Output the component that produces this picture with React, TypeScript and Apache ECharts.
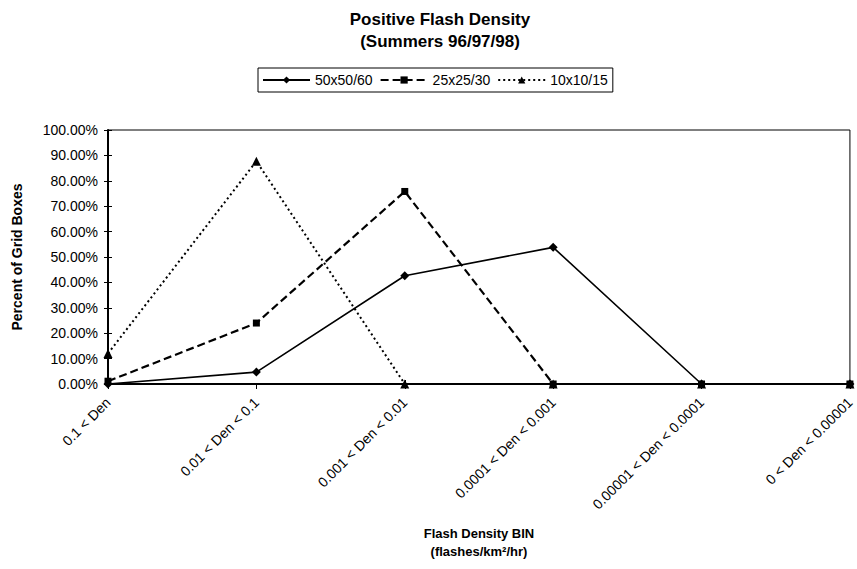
import React, { useEffect, useRef } from "react";
import * as echarts from "echarts";

const categories = [
  "0.1 < Den",
  "0.01 < Den < 0.1",
  "0.001 < Den < 0.01",
  "0.0001 < Den < 0.001",
  "0.00001 < Den < 0.0001",
  "0 < Den < 0.00001",
];
const seriesNames = ["50x50/60", "25x25/30", "10x10/15"];
const values50 = [0, 4.7, 42.6, 53.8, 0, 0];
const values25 = [1.1, 24.0, 75.8, 0, 0, 0];
const values10 = [12.0, 87.7, 0, 0, 0, 0];

const FONT = "'Liberation Sans', Arial, Helvetica, sans-serif";

export default function App() {
  const ref = useRef<HTMLDivElement>(null);
  useEffect(() => {
    if (!ref.current) return;
    const chart = echarts.init(ref.current, null, { renderer: "svg" });
    const option: any = {
      animation: false,
      backgroundColor: "#ffffff",
      textStyle: { fontFamily: FONT, color: "#000" },
      title: {
        text: "Positive Flash Density\n(Summers 96/97/98)",
        left: 435,
        textAlign: "center",
        top: 3,
        textStyle: {
          fontFamily: FONT,
          fontSize: 17,
          fontWeight: "bold",
          color: "#000",
          lineHeight: 22,
        },
      },
      legend: {
        data: seriesNames,
        left: 258,
        top: 68,
        orient: "horizontal",
        itemWidth: 47,
        itemHeight: 9,
        itemGap: 7,
        padding: [5, 5, 5, 4],
        borderColor: "#000",
        borderWidth: 1,
        textStyle: { fontFamily: FONT, fontSize: 14, color: "#000" },
      },
      grid: {
        left: 108,
        right: 4,
        top: 130,
        bottom: 185,
        show: true,
        borderColor: "#000",
        borderWidth: 1,
        backgroundColor: "transparent",
      },
      xAxis: [
        {
          type: "category",
          data: categories,
          boundaryGap: false,
          axisLine: { show: true, lineStyle: { color: "#000", width: 2 } },
          axisTick: { show: true, length: 5, inside: false, lineStyle: { color: "#000" } },
          axisLabel: {
            rotate: 45,
            interval: 0,
            margin: 16,
            fontFamily: FONT,
            fontSize: 14,
            color: "#000",
          },
          splitLine: { show: false },
          name: "Flash Density BIN\n(flashes/km²/hr)",
          nameLocation: "middle",
          nameGap: 140,
          nameTextStyle: {
            fontFamily: FONT,
            fontSize: 13,
            fontWeight: "bold",
            color: "#000",
            lineHeight: 18,
            verticalAlign: "top",
          },
        },
        {
          type: "category",
          data: categories,
          boundaryGap: false,
          position: "bottom",
          axisLine: { show: false },
          axisTick: { show: true, length: 4, inside: true, lineStyle: { color: "#000" } },
          axisLabel: { show: false },
          splitLine: { show: false },
        },
      ],
      yAxis: [
        {
          type: "value",
          min: 0,
          max: 100,
          interval: 10,
          axisLine: { show: true, lineStyle: { color: "#000", width: 2 } },
          axisTick: { show: true, length: 4, lineStyle: { color: "#000" } },
          axisLabel: {
            formatter: (v: number) => v.toFixed(2) + "%",
            margin: 10,
            fontFamily: FONT,
            fontSize: 14,
            color: "#000",
          },
          splitLine: { show: false },
          name: "Percent of Grid Boxes",
          nameLocation: "middle",
          nameGap: 84,
          nameRotate: 90,
          nameTextStyle: {
            fontFamily: FONT,
            fontSize: 14,
            fontWeight: "bold",
            color: "#000",
          },
        },
        {
          type: "value",
          min: 0,
          max: 100,
          interval: 10,
          position: "left",
          axisLine: { show: false },
          axisTick: { show: true, length: 4, inside: true, lineStyle: { color: "#000" } },
          axisLabel: { show: false },
          splitLine: { show: false },
        },
      ],
      series: [
        {
          name: seriesNames[0],
          type: "line",
          data: values50,
          symbol: "diamond",
          symbolSize: 9,
          z: 3,
          color: "#000",
          itemStyle: { color: "#000" },
          lineStyle: { color: "#000", width: 1.6, type: "solid" },
        },
        {
          name: seriesNames[1],
          type: "line",
          data: values25,
          symbol: "rect",
          symbolSize: 7,
          z: 4,
          color: "#000",
          itemStyle: { color: "#000" },
          lineStyle: { color: "#000", width: 2.2, type: [8, 4] },
        },
        {
          name: seriesNames[2],
          type: "line",
          data: values10,
          symbol: "triangle",
          symbolSize: 9,
          z: 2,
          color: "#000",
          itemStyle: { color: "#000" },
          lineStyle: { color: "#000", width: 2, type: [2, 3] },
        },
      ],
    };
    chart.setOption(option);
    return () => chart.dispose();
  }, []);
  return (
    <div
      ref={ref}
      style={{ position: "fixed", left: 0, top: 0, width: 857, height: 569, background: "#fff" }}
    />
  );
}
